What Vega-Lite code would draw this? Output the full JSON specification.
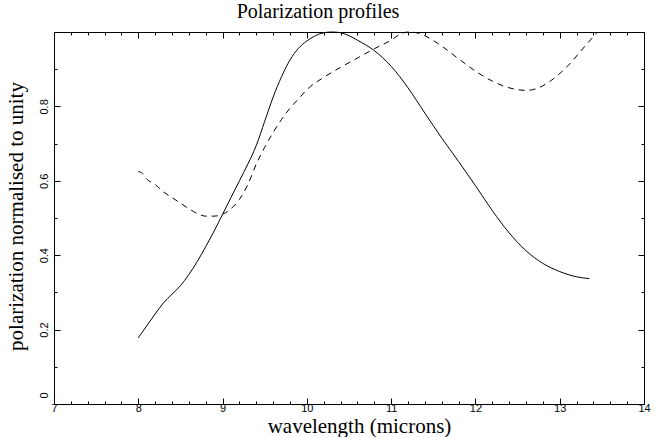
{
  "$schema": "https://vega.github.io/schema/vega-lite/v6.json",
  "width": 590,
  "height": 372,
  "autosize": {"type": "none"},
  "padding": {"left": 54, "top": 32, "right": 23, "bottom": 33},
  "background": "white",
  "title": {"text": "Polarization profiles", "font": "Liberation Serif", "fontSize": 20, "fontWeight": "normal", "color": "black", "anchor": "middle", "frame": "group", "dx": -31, "dy": 23, "offset": 15, "baseline": "alphabetic"},
  "config": {
    "view": {"stroke": "black", "strokeWidth": 1},
    "axis": {"domainColor": "black", "tickColor": "black", "grid": false, "labelOverlap": false, "labelBound": false, "labelFlush": false, "tickWidth": 1, "domainWidth": 1, "minExtent": 0}
  },
  "datasets": {
    "profiles": [
      {"profile": "A", "wavelength": 8.0, "polarization": 0.178},
      {"profile": "A", "wavelength": 8.1, "polarization": 0.21},
      {"profile": "A", "wavelength": 8.2, "polarization": 0.242},
      {"profile": "A", "wavelength": 8.3, "polarization": 0.272},
      {"profile": "A", "wavelength": 8.4, "polarization": 0.295},
      {"profile": "A", "wavelength": 8.5, "polarization": 0.318},
      {"profile": "A", "wavelength": 8.6, "polarization": 0.348},
      {"profile": "A", "wavelength": 8.7, "polarization": 0.383},
      {"profile": "A", "wavelength": 8.8, "polarization": 0.423},
      {"profile": "A", "wavelength": 8.9, "polarization": 0.465},
      {"profile": "A", "wavelength": 9.0, "polarization": 0.51},
      {"profile": "A", "wavelength": 9.1, "polarization": 0.555},
      {"profile": "A", "wavelength": 9.2, "polarization": 0.60},
      {"profile": "A", "wavelength": 9.3, "polarization": 0.645},
      {"profile": "A", "wavelength": 9.4, "polarization": 0.695},
      {"profile": "A", "wavelength": 9.5, "polarization": 0.76},
      {"profile": "A", "wavelength": 9.6, "polarization": 0.825},
      {"profile": "A", "wavelength": 9.7, "polarization": 0.88},
      {"profile": "A", "wavelength": 9.8, "polarization": 0.925},
      {"profile": "A", "wavelength": 9.9, "polarization": 0.956},
      {"profile": "A", "wavelength": 10.0, "polarization": 0.976},
      {"profile": "A", "wavelength": 10.1, "polarization": 0.99},
      {"profile": "A", "wavelength": 10.2, "polarization": 0.998},
      {"profile": "A", "wavelength": 10.3, "polarization": 1.0},
      {"profile": "A", "wavelength": 10.4, "polarization": 0.998},
      {"profile": "A", "wavelength": 10.5, "polarization": 0.99},
      {"profile": "A", "wavelength": 10.6, "polarization": 0.978},
      {"profile": "A", "wavelength": 10.8, "polarization": 0.95},
      {"profile": "A", "wavelength": 11.0, "polarization": 0.908},
      {"profile": "A", "wavelength": 11.2, "polarization": 0.85},
      {"profile": "A", "wavelength": 11.4, "polarization": 0.782},
      {"profile": "A", "wavelength": 11.6, "polarization": 0.715},
      {"profile": "A", "wavelength": 11.8, "polarization": 0.652},
      {"profile": "A", "wavelength": 12.0, "polarization": 0.587},
      {"profile": "A", "wavelength": 12.2, "polarization": 0.52},
      {"profile": "A", "wavelength": 12.4, "polarization": 0.46},
      {"profile": "A", "wavelength": 12.6, "polarization": 0.412},
      {"profile": "A", "wavelength": 12.8, "polarization": 0.378},
      {"profile": "A", "wavelength": 13.0, "polarization": 0.356},
      {"profile": "A", "wavelength": 13.2, "polarization": 0.342},
      {"profile": "A", "wavelength": 13.35, "polarization": 0.337},
      {"profile": "B", "wavelength": 8.0, "polarization": 0.625},
      {"profile": "B", "wavelength": 8.05, "polarization": 0.62},
      {"profile": "B", "wavelength": 8.1, "polarization": 0.605},
      {"profile": "B", "wavelength": 8.2, "polarization": 0.59},
      {"profile": "B", "wavelength": 8.3, "polarization": 0.57},
      {"profile": "B", "wavelength": 8.4, "polarization": 0.555},
      {"profile": "B", "wavelength": 8.5, "polarization": 0.54},
      {"profile": "B", "wavelength": 8.6, "polarization": 0.525},
      {"profile": "B", "wavelength": 8.7, "polarization": 0.512},
      {"profile": "B", "wavelength": 8.8, "polarization": 0.505},
      {"profile": "B", "wavelength": 8.9, "polarization": 0.505},
      {"profile": "B", "wavelength": 9.0, "polarization": 0.51},
      {"profile": "B", "wavelength": 9.1, "polarization": 0.525},
      {"profile": "B", "wavelength": 9.2, "polarization": 0.55},
      {"profile": "B", "wavelength": 9.3, "polarization": 0.59},
      {"profile": "B", "wavelength": 9.4, "polarization": 0.645},
      {"profile": "B", "wavelength": 9.5, "polarization": 0.69},
      {"profile": "B", "wavelength": 9.6, "polarization": 0.73},
      {"profile": "B", "wavelength": 9.7, "polarization": 0.765},
      {"profile": "B", "wavelength": 9.8, "polarization": 0.795},
      {"profile": "B", "wavelength": 9.9, "polarization": 0.82},
      {"profile": "B", "wavelength": 10.0, "polarization": 0.845},
      {"profile": "B", "wavelength": 10.2, "polarization": 0.878},
      {"profile": "B", "wavelength": 10.4, "polarization": 0.905},
      {"profile": "B", "wavelength": 10.6, "polarization": 0.93},
      {"profile": "B", "wavelength": 10.8, "polarization": 0.955},
      {"profile": "B", "wavelength": 11.0, "polarization": 0.978},
      {"profile": "B", "wavelength": 11.1, "polarization": 0.993},
      {"profile": "B", "wavelength": 11.2, "polarization": 1.0},
      {"profile": "B", "wavelength": 11.3, "polarization": 0.998},
      {"profile": "B", "wavelength": 11.4, "polarization": 0.99},
      {"profile": "B", "wavelength": 11.6, "polarization": 0.962},
      {"profile": "B", "wavelength": 11.8, "polarization": 0.928},
      {"profile": "B", "wavelength": 12.0, "polarization": 0.895},
      {"profile": "B", "wavelength": 12.2, "polarization": 0.868},
      {"profile": "B", "wavelength": 12.4, "polarization": 0.85},
      {"profile": "B", "wavelength": 12.6, "polarization": 0.843},
      {"profile": "B", "wavelength": 12.75, "polarization": 0.85},
      {"profile": "B", "wavelength": 12.9, "polarization": 0.87},
      {"profile": "B", "wavelength": 13.1, "polarization": 0.91},
      {"profile": "B", "wavelength": 13.3, "polarization": 0.962},
      {"profile": "B", "wavelength": 13.45, "polarization": 1.0}
    ]
  },
  "data": {"name": "profiles"},
  "layer": [
    {
      "transform": [{"filter": "datum.profile === 'A'"}],
      "mark": {"type": "line", "color": "black", "strokeWidth": 1, "interpolate": "monotone"},
      "encoding": {
        "x": {
          "field": "wavelength", "type": "quantitative",
          "scale": {"domain": [7, 14], "nice": false, "zero": false},
          "axis": {
            "orient": "bottom",
            "values": [7, 7.2, 7.4, 7.6, 7.8, 8, 8.2, 8.4, 8.6, 8.8, 9, 9.2, 9.4, 9.6, 9.8, 10, 10.2, 10.4, 10.6, 10.8, 11, 11.2, 11.4, 11.6, 11.8, 12, 12.2, 12.4, 12.6, 12.8, 13, 13.2, 13.4, 13.6, 13.8, 14],
            "format": "~g",
            "labelExpr": "abs(datum.value - round(datum.value)) < 0.001 ? datum.label : ''",
            "tickSize": {"condition": {"test": "abs(datum.value - round(datum.value)) < 0.001", "value": -6}, "value": -3},
            "labelPadding": 4,
            "labelFont": "Liberation Sans", "labelFontSize": 11, "labelColor": "black",
            "title": "wavelength (microns)",
            "titleFont": "Liberation Serif", "titleFontSize": 21, "titleFontWeight": "normal", "titleColor": "black",
            "titleX": 305, "titleY": 28, "titleAlign": "center", "titleBaseline": "alphabetic"
          }
        },
        "y": {
          "field": "polarization", "type": "quantitative",
          "scale": {"domain": [0, 1], "nice": false, "zero": false},
          "axis": {
            "orient": "left",
            "values": [0, 0.1, 0.2, 0.3, 0.4, 0.5, 0.6, 0.7, 0.8, 0.9, 1],
            "format": "~g",
            "labelExpr": "(abs(datum.value * 5 - round(datum.value * 5)) < 0.001 && datum.value < 0.99) ? datum.label : ''",
            "tickSize": {"condition": {"test": "abs(datum.value * 5 - round(datum.value * 5)) < 0.001", "value": -6}, "value": -3},
            "labelAngle": -90, "labelAlign": "center", "labelBaseline": "alphabetic",
            "labelPadding": 13,
            "labelOffset": {"condition": {"test": "datum.value === 0", "value": -9}, "value": 0},
            "labelFont": "Liberation Sans", "labelFontSize": 11, "labelColor": "black",
            "title": "polarization normalised to unity",
            "titleFont": "Liberation Serif", "titleFontSize": 21, "titleFontWeight": "normal", "titleColor": "black",
            "titleAngle": -90, "titleX": -32, "titleY": 184, "titleAlign": "center", "titleBaseline": "alphabetic"
          }
        }
      }
    },
    {
      "transform": [{"filter": "datum.profile === 'B'"}],
      "mark": {"type": "line", "color": "black", "strokeWidth": 1, "strokeDash": [6, 5], "interpolate": "monotone"},
      "encoding": {
        "x": {
          "field": "wavelength", "type": "quantitative",
          "scale": {"domain": [7, 14], "nice": false, "zero": false},
          "axis": {
            "orient": "top",
            "values": [7, 7.2, 7.4, 7.6, 7.8, 8, 8.2, 8.4, 8.6, 8.8, 9, 9.2, 9.4, 9.6, 9.8, 10, 10.2, 10.4, 10.6, 10.8, 11, 11.2, 11.4, 11.6, 11.8, 12, 12.2, 12.4, 12.6, 12.8, 13, 13.2, 13.4, 13.6, 13.8, 14],
            "labels": false,
            "tickSize": {"condition": {"test": "abs(datum.value - round(datum.value)) < 0.001", "value": -6}, "value": -3},
            "title": null
          }
        },
        "y": {
          "field": "polarization", "type": "quantitative",
          "scale": {"domain": [0, 1], "nice": false, "zero": false},
          "axis": {
            "orient": "right",
            "values": [0, 0.1, 0.2, 0.3, 0.4, 0.5, 0.6, 0.7, 0.8, 0.9, 1],
            "labels": false,
            "tickSize": {"condition": {"test": "abs(datum.value * 5 - round(datum.value * 5)) < 0.001", "value": -6}, "value": -3},
            "title": null
          }
        }
      }
    }
  ],
  "resolve": {"axis": {"x": "independent", "y": "independent"}}
}
